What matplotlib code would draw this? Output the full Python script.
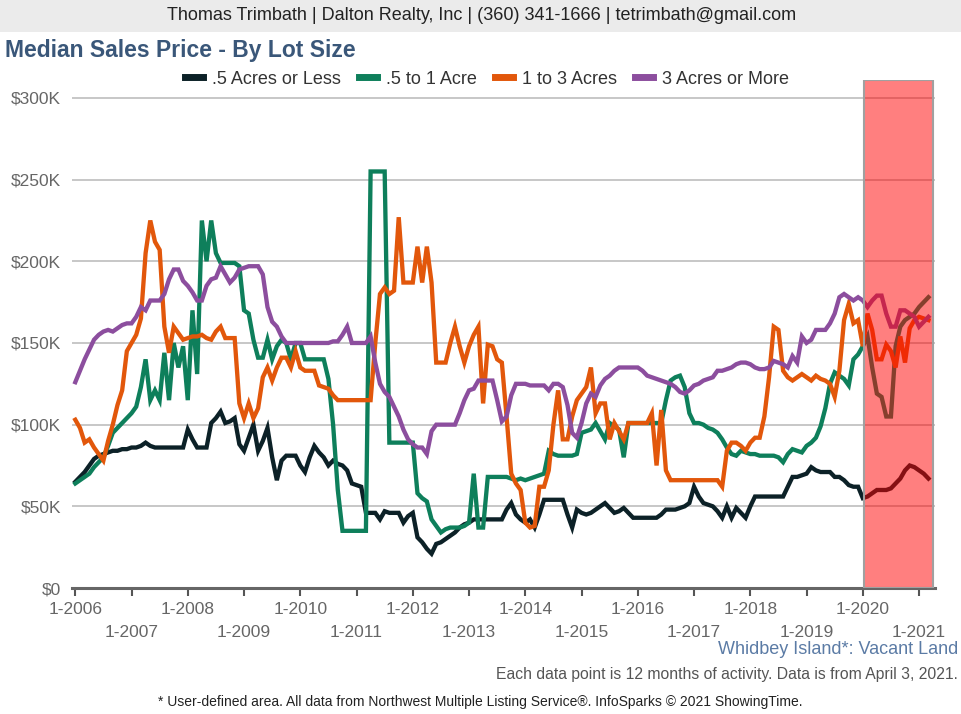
import matplotlib
matplotlib.use("Agg")
import matplotlib.pyplot as plt
from matplotlib.lines import Line2D
from matplotlib.patches import Rectangle

plt.rcParams['font.family'] = ['Liberation Sans', 'DejaVu Sans']

# ---------------- data (monthly, Jan 2006 .. Mar 2021), values in $K ----------------
year_labels = [f"1-{y}" for y in range(2006, 2022)]

half_acre_or_less = [
    65, 68, 71, 75, 79, 81, 82, 83, 84, 84, 85, 85,
    86, 86, 87, 89, 87, 86, 86, 86, 86, 86, 86, 86,
    97, 91, 86, 86, 86, 101, 104, 108, 101, 102, 104, 88,
    84, 92, 100, 84, 90, 98, 80, 66, 78, 81, 81, 81,
    75, 71, 80, 87, 83, 80, 75, 78, 76, 75, 72, 64,
    63, 62, 46, 46, 46, 42, 47, 46, 46, 46, 40, 44,
    46, 31, 28, 24, 21, 27, 28, 30, 32, 34, 37, 39,
    40, 42, 42, 42, 42, 42, 42, 42, 48, 52, 45, 42,
    40, 42, 37, 45, 54, 54, 54, 54, 54, 45, 37, 48,
    46, 45, 46, 48, 50, 52, 49, 46, 47, 49, 46, 43,
    43, 43, 43, 43, 43, 45, 48, 48, 48, 49, 50, 52,
    62, 56, 52, 51, 50, 47, 43, 50, 43, 49, 46, 43,
    50, 56, 56, 56, 56, 56, 56, 56, 62, 68, 68, 69,
    70, 74, 72, 71, 71, 71, 68, 68, 66, 63, 62, 62,
    55, 56, 58, 60, 60, 60, 61, 64, 67, 72, 75, 74,
    72, 70, 67,
]

half_to_one_acre = [
    64, 66, 68, 70, 74, 77, 80, 87, 95, 98, 101, 104,
    107, 111, 123, 140, 115, 121, 115, 144, 115, 150, 135, 148,
    115, 170, 131, 225, 200, 225, 205, 199, 199, 199, 199, 197,
    170, 168, 152, 141, 141, 152, 140, 148, 152, 150, 140, 150,
    150, 140, 140, 140, 140, 140, 128, 100, 60, 35, 35, 35,
    35, 35, 35, 255, 255, 255, 255, 89, 89, 89, 89, 89,
    89, 58, 55, 53, 42, 38, 34, 36, 37, 37, 37, 38,
    40, 70, 37, 37, 68, 68, 68, 68, 68, 67, 66, 67,
    66, 67, 68, 69, 70, 84, 82, 81, 81, 81, 81, 82,
    95, 96, 97, 101, 96, 91, 101, 99, 97, 80, 101, 101,
    101, 101, 101, 101, 101, 101, 115, 127, 129, 130, 123, 107,
    101, 101, 100, 98, 97, 95, 91, 86, 82, 81, 84, 83,
    82, 82, 81, 81, 81, 81, 80, 77, 82, 85, 84, 83,
    87, 89, 92, 99, 110, 125, 132, 130, 128, 124, 140, 143,
    148, 154, 135, 119, 117, 105, 105, 148, 160, 164, 166, 168,
    172, 175, 178,
]

one_to_three_acres = [
    103, 98, 89, 91, 86, 82, 78, 90, 100, 112, 121, 145,
    150, 155, 165, 205, 225, 212, 207, 160, 144, 160, 156, 152,
    153, 154, 154, 155, 153, 152, 157, 160, 153, 153, 153, 113,
    104, 113, 104, 110, 129, 135, 127, 135, 141, 141, 135, 145,
    135, 133, 133, 133, 124, 123, 122, 118, 115, 115, 115, 115,
    115, 115, 115, 115, 150, 180, 184, 180, 182, 227, 187, 187,
    187, 209, 187, 209, 187, 138, 138, 138, 150, 160, 148, 138,
    148, 155, 160, 113, 149, 148, 140, 138, 105, 70, 64, 60,
    40, 37, 38, 62, 62, 72, 100, 121, 91, 91, 105, 115,
    119, 123, 135, 107, 113, 113, 91, 101, 96, 91, 101, 101,
    101, 101, 101, 107, 75, 109, 72, 66, 66, 66, 66, 66,
    66, 66, 66, 66, 66, 66, 62, 84, 89, 89, 87, 84,
    89, 92, 92, 105, 129, 160, 158, 133, 129, 127, 129, 131,
    129, 127, 130, 128, 127, 125, 117, 133, 164, 174, 162, 164,
    148, 168, 158, 140, 140, 149, 145, 135, 154, 138, 159, 164,
    166, 165, 164,
]

three_acres_or_more = [
    126, 133, 140, 146, 152, 155, 157, 158, 157, 159, 161, 162,
    162, 166, 172, 170, 176, 176, 176, 180, 189, 195, 195, 188,
    185, 181, 176, 176, 185, 189, 190, 197, 192, 187, 190, 195,
    196, 197, 197, 197, 192, 172, 163, 160, 154, 150, 150, 150,
    150, 150, 150, 150, 150, 150, 150, 151, 151, 155, 160, 150,
    150, 150, 150, 154, 138, 125, 120, 117, 111, 105, 97, 91,
    88, 86, 86, 82, 96, 100, 100, 100, 100, 100, 107, 115,
    121, 122, 127, 127, 127, 127, 115, 102, 105, 118, 125, 125,
    125, 124, 124, 124, 124, 121, 125, 125, 123, 112, 95, 92,
    101, 113, 119, 117, 124, 128, 130, 133, 135, 135, 135, 135,
    135, 133, 130, 129, 128, 127, 126, 125, 123, 120, 119, 121,
    124, 125, 127, 128, 129, 133, 133, 134, 135, 137, 138, 138,
    137, 135, 134, 134, 135, 139, 138, 137, 135, 142, 138, 154,
    150, 152, 158, 158, 158, 162, 168, 178, 180, 178, 176, 178,
    176, 172, 176, 179, 179, 168, 160, 160, 170, 170, 168, 166,
    160, 163, 166,
]

series_names = [".5 Acres or Less", ".5 to 1 Acre", "1 to 3 Acres", "3 Acres or More"]
series_values = [half_acre_or_less, half_to_one_acre, one_to_three_acres, three_acres_or_more]
series_colors = ["#0C2127", "#0E7F5B", "#E2570B", "#8C4E9E"]

y_ticks = [0, 50, 100, 150, 200, 250, 300]
y_tick_labels = ["$0", "$50K", "$100K", "$150K", "$200K", "$250K", "$300K"]

highlight_start_month = 168.2   # 1-2020
highlight_end_month = 182.9

# ---------------- figure ----------------
W, H = 962, 714
fig = plt.figure(figsize=(W / 100, H / 100), dpi=100)
fig.patch.set_facecolor("white")

fig.patches.append(Rectangle((0, 1 - 32 / H), 1, 32 / H, transform=fig.transFigure,
                             facecolor="#EBEBEB", edgecolor="none", zorder=0))
fig.text(482 / W, 1 - 16 / H, "Thomas Trimbath | Dalton Realty, Inc | (360) 341-1666 | tetrimbath@gmail.com",
         ha="center", va="center", fontsize=13, color="#222222")
fig.text(5 / W, 1 - 50 / H, "Median Sales Price - By Lot Size", ha="left", va="center",
         fontsize=16.5, fontweight="bold", color="#3A5779")

ax_left, ax_right = 72 / W, 935 / W
ax_bottom, ax_top = 1 - 588 / H, 1 - 80 / H
ax = fig.add_axes([ax_left, ax_bottom, ax_right - ax_left, ax_top - ax_bottom])

months = list(range(len(half_acre_or_less)))
for name, vals, col in zip(series_names, series_values, series_colors):
    ax.plot(months[:len(vals)], vals, color=col, lw=3.1, solid_joinstyle="miter", zorder=3, label=name)

ax.set_ylim(0, 311)
ax.set_xlim(-0.7, 183.4)
ax.set_yticks(y_ticks)
ax.set_yticklabels(y_tick_labels)
ax.yaxis.grid(True, color="#BDBDBD", lw=1.2)
ax.set_axisbelow(True)
ax.tick_params(axis="y", length=0, labelsize=12.5, labelcolor="#666666", pad=8)

xt = [12 * i for i in range(len(year_labels))]
ax.set_xticks(xt)
ax.set_xticklabels([lab if i % 2 == 0 else "\n" + lab for i, lab in enumerate(year_labels)])
ax.tick_params(axis="x", length=6, width=1.5, color="#555555", labelsize=12.5,
               labelcolor="#666666", pad=4)
for lbl in ax.get_xticklabels():
    lbl.set_linespacing(1.65)

for s in ["top", "right", "left"]:
    ax.spines[s].set_visible(False)
ax.spines["bottom"].set_color("#666666")
ax.spines["bottom"].set_linewidth(2.2)

ax.axvspan(highlight_start_month, highlight_end_month, facecolor=(1, 0, 0, 0.5),
           edgecolor="#A0A0A0", lw=1.5, zorder=5)

handles = [Line2D([], [], color=c, lw=5) for c in series_colors]
fig.legend(handles, series_names, loc="center", bbox_to_anchor=(487 / W, 1 - 79 / H), ncol=4,
           frameon=False, fontsize=13, handlelength=1.0, handletextpad=0.5, columnspacing=1.0,
           labelcolor="#333333")

fig.text(958 / W, 1 - 650 / H, "Whidbey Island*: Vacant Land", ha="right", va="center",
         fontsize=13, color="#5B7BA5")
fig.text(958 / W, 1 - 675 / H, "Each data point is 12 months of activity. Data is from April 3, 2021.",
         ha="right", va="center", fontsize=11.3, color="#555555")
fig.text(480 / W, 1 - 702 / H,
         "* User-defined area. All data from Northwest Multiple Listing Service\u00ae. InfoSparks \u00a9 2021 ShowingTime.",
         ha="center", va="center", fontsize=10, color="#222222")

fig.savefig("out.png", dpi=100, facecolor="white")
